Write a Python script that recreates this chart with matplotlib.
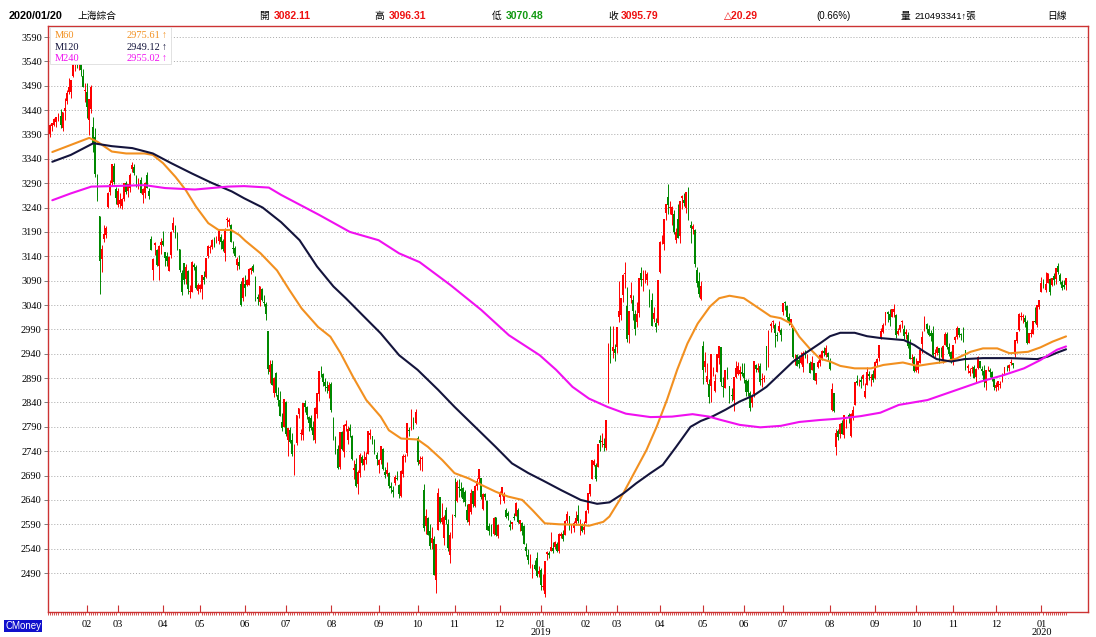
import matplotlib
matplotlib.use('Agg')
import matplotlib.pyplot as plt
import numpy as np
from matplotlib.patches import Rectangle

# daily candles, (open, high, low, close), one list per month
jan18 = [(3386,3402,3380,3392),(3391,3412,3385,3409),(3407,3414,3398,3414),(3410,3424,3407,3422),(3415,3426,3405,3425),(3423,3435,3418,3429),(3428,3442,3403,3410),(3403,3437,3398,3437),(3438,3465,3420,3445),(3458,3481,3453,3475),(3478,3505,3474,3488),(3478,3502,3465,3501),(3509,3547,3508,3547),(3548,3565,3521,3559),(3563,3563,3527,3548),(3536,3559,3522,3558),(3564,3587,3511,3523),(3511,3524,3488,3488),(3480,3495,3457,3481)]
feb18 = [(3478,3495,3424,3447),(3419,3463,3388,3462),(3443,3491,3434,3487),(3406,3426,3355,3371),(3384,3404,3303,3309),(3294,3309,3253,3262),(3222,3222,3062,3130),(3135,3164,3107,3154),(3176,3205,3170,3185),(3184,3202,3177,3199),(3242,3272,3239,3269),(3272,3296,3266,3289),(3290,3330,3284,3330),(3325,3331,3289,3292),(3279,3283,3248,3259)]
mar18 = [(3246,3281,3242,3274),(3248,3269,3239,3255),(3244,3260,3238,3257),(3258,3290,3254,3290),(3290,3295,3267,3272),(3274,3289,3261,3288),(3280,3310,3272,3307),(3319,3334,3312,3327),(3323,3329,3307,3310),(3303,3307,3282,3291),(3286,3301,3278,3291),(3297,3302,3269,3270),(3266,3280,3250,3279),(3269,3292,3260,3291),(3306,3312,3280,3281),(3275,3281,3258,3263),(3175,3182,3152,3153),(3111,3137,3092,3134),(3164,3170,3143,3167),(3152,3155,3121,3122),(3120,3163,3091,3161),(3163,3178,3145,3169)]
apr18 = [(3171,3191,3161,3163),(3148,3149,3121,3137),(3140,3148,3120,3131),(3110,3140,3109,3138),(3142,3191,3137,3190),(3194,3220,3190,3208),(3202,3205,3177,3180),(3185,3190,3153,3159),(3154,3155,3107,3111),(3105,3112,3061,3067),(3126,3127,3083,3091),(3094,3125,3084,3117),(3110,3112,3063,3072),(3067,3081,3054,3068),(3066,3130,3066,3129),(3122,3127,3111,3118),(3119,3123,3072,3075),(3068,3085,3062,3082)]
may18 = [(3072,3084,3066,3081),(3072,3101,3052,3101),(3097,3110,3084,3091),(3097,3137,3095,3137),(3141,3163,3136,3162),(3156,3163,3146,3159),(3160,3176,3155,3174),(3174,3180,3160,3163),(3170,3181,3167,3174),(3172,3193,3166,3192),(3180,3186,3155,3170),(3171,3175,3151,3154),(3147,3198,3130,3193),(3214,3220,3201,3214),(3211,3219,3203,3214),(3205,3206,3169,3169),(3158,3171,3147,3155),(3158,3161,3138,3141),(3123,3138,3112,3135),(3129,3143,3113,3120),(3083,3089,3037,3041),(3054,3098,3048,3095)]
jun18 = [(3084,3102,3059,3075),(3082,3093,3078,3091),(3082,3115,3082,3114),(3111,3117,3103,3115),(3120,3125,3108,3110),(3097,3099,3049,3067),(3057,3062,3041,3053),(3046,3080,3039,3080),(3072,3074,3049,3050),(3046,3060,3038,3044),(3042,3046,3009,3022),(2987,2987,2899,2908),(2903,2928,2879,2916),(2919,2927,2875,2876),(2860,2893,2851,2890),(2901,2902,2854,2859),(2856,2872,2833,2845),(2845,2864,2812,2813),(2800,2819,2782,2787),(2790,2848,2789,2847)]
jul18 = [(2841,2842,2772,2776),(2764,2787,2730,2787),(2784,2790,2756,2759),(2763,2777,2730,2734),(2731,2754,2691,2747),(2757,2815,2752,2815),(2817,2829,2808,2828),(2775,2786,2762,2778),(2774,2838,2762,2838),(2839,2845,2821,2831),(2831,2832,2807,2814),(2810,2812,2782,2798),(2809,2814,2783,2787),(2790,2802,2764,2773),(2762,2831,2756,2829),(2816,2860,2808,2860),(2857,2905,2844,2904),(2905,2915,2893,2904),(2898,2900,2874,2882),(2882,2890,2864,2874),(2872,2884,2859,2869),(2863,2882,2850,2876)]
aug18 = [(2877,2881,2820,2825),(2807,2810,2764,2768),(2768,2772,2734,2740),(2745,2753,2703,2705),(2708,2780,2703,2779),(2780,2782,2742,2744),(2739,2795,2728,2794),(2791,2804,2781,2795),(2762,2791,2754,2786),(2788,2796,2770,2781),(2771,2774,2722,2723),(2701,2721,2682,2706),(2713,2726,2666,2669),(2673,2702,2653,2698),(2696,2737,2687,2733),(2729,2732,2711,2715),(2712,2741,2702,2725),(2722,2738,2714,2729),(2734,2781,2734,2781),(2774,2785,2766,2778),(2771,2772,2754,2769),(2763,2765,2735,2738),(2732,2738,2711,2725)]
sep18 = [(2712,2725,2696,2721),(2721,2751,2714,2751),(2744,2746,2701,2704),(2698,2707,2684,2692),(2694,2718,2689,2702),(2696,2697,2664,2669),(2668,2677,2655,2665),(2661,2669,2645,2656),(2675,2692,2670,2687),(2686,2699,2680,2682),(2670,2672,2644,2652),(2648,2701,2645,2700),(2693,2735,2687,2731),(2728,2735,2718,2729),(2736,2798,2731,2797),(2783,2790,2771,2781),(2786,2827,2784,2807),(2799,2810,2785,2792),(2797,2827,2796,2821)]
oct18 = [(2768,2772,2712,2717),(2713,2731,2702,2721),(2723,2730,2699,2726),(2661,2673,2577,2583),(2587,2622,2571,2607),(2602,2605,2567,2568),(2577,2590,2540,2546),(2551,2584,2539,2562),(2560,2566,2486,2486),(2475,2550,2449,2550),(2579,2664,2578,2655),(2646,2646,2592,2595),(2595,2633,2590,2603),(2561,2610,2547,2604),(2620,2626,2591,2599),(2590,2601,2535,2542),(2527,2574,2511,2568),(2574,2612,2562,2603)]
nov18 = [(2610,2685,2604,2606),(2637,2680,2636,2676),(2666,2683,2647,2665),(2662,2677,2646,2659),(2665,2667,2636,2641),(2657,2660,2628,2636),(2620,2631,2595,2599),(2594,2632,2588,2631),(2615,2663,2611,2655),(2658,2659,2625,2632),(2628,2670,2626,2668),(2668,2686,2661,2679),(2683,2704,2673,2704),(2685,2685,2641,2646),(2621,2655,2619,2652),(2652,2655,2639,2645),(2637,2639,2579,2579),(2586,2592,2568,2576),(2584,2590,2566,2575),(2570,2604,2569,2602),(2604,2605,2566,2567),(2565,2590,2561,2588)]
dec18 = [(2646,2659,2631,2655),(2652,2666,2648,2666),(2637,2656,2633,2650),(2620,2623,2602,2605),(2614,2617,2599,2606),(2589,2598,2578,2585),(2590,2595,2580,2594),(2605,2613,2598,2602),(2606,2635,2606,2634),(2619,2623,2592,2594),(2590,2599,2577,2598),(2592,2594,2567,2577),(2586,2589,2549,2550),(2544,2552,2524,2536),(2526,2540,2508,2516),(2510,2529,2501,2527),(2494,2508,2480,2505),(2507,2516,2496,2498),(2520,2534,2482,2483),(2488,2505,2482,2494)]
jan19 = [(2497,2500,2456,2465),(2461,2488,2456,2464),(2446,2515,2440,2515),(2529,2536,2516,2533),(2531,2535,2521,2526),(2535,2575,2535,2544),(2541,2554,2531,2535),(2543,2556,2539,2554),(2549,2553,2533,2536),(2536,2573,2532,2570),(2565,2575,2562,2570),(2571,2579,2556,2560),(2569,2599,2569,2596),(2597,2618,2593,2611),(2607,2608,2578,2580),(2575,2590,2572,2581),(2583,2597,2574,2592),(2593,2618,2589,2602),(2609,2630,2593,2597),(2594,2600,2568,2594),(2590,2593,2575,2576),(2578,2596,2571,2585)]
feb19 = [(2592,2619,2592,2618),(2619,2654,2613,2654),(2652,2672,2649,2672),(2683,2722,2682,2721),(2711,2725,2709,2720),(2711,2716,2679,2682),(2708,2754,2708,2754),(2762,2774,2740,2756),(2758,2778,2748,2761),(2754,2768,2740,2752),(2747,2804,2742,2804),(2838,2962,2838,2961),(2965,2997,2921,2942),(2945,2996,2931,2954),(2949,2960,2926,2941)]
mar19 = [(2954,2995,2942,2994),(3016,3090,3005,3028),(3020,3054,3010,3054),(3060,3103,3046,3102),(3103,3129,3075,3106),(3039,3076,2965,2970),(2979,3027,2962,3027),(3054,3087,3044,3060),(3050,3061,3009,3027),(3022,3030,2979,2991),(3006,3046,2995,3022),(3024,3096,3015,3096),(3105,3117,3078,3091),(3091,3112,3068,3091),(3101,3112,3086,3101),(3092,3108,3082,3104),(3063,3073,3035,3043),(3050,3065,2997,2997),(3012,3035,3005,3023),(3004,3014,2985,2995),(3003,3092,3000,3091)]
apr19 = [(3108,3172,3105,3170),(3177,3183,3166,3177),(3166,3216,3152,3216),(3229,3247,3214,3247),(3261,3288,3227,3245),(3239,3253,3227,3240),(3224,3243,3205,3242),(3227,3234,3186,3190),(3173,3198,3168,3189),(3216,3247,3177,3178),(3182,3254,3167,3254),(3259,3265,3238,3263),(3256,3270,3244,3250),(3239,3271,3229,3271),(3266,3283,3215,3215),(3205,3213,3168,3199),(3197,3207,3185,3202),(3193,3196,3117,3124),(3112,3118,3076,3086),(3089,3107,3057,3063),(3053,3089,3050,3078)]
may19 = [(2955,2966,2877,2906),(2913,2943,2903,2926),(2882,2920,2878,2894),(2878,2888,2838,2851),(2874,2939,2840,2939),(2904,2913,2894,2904),(2863,2898,2862,2884),(2903,2939,2903,2939),(2932,2956,2918,2956),(2954,2954,2873,2882),(2874,2892,2852,2871),(2869,2906,2869,2906),(2903,2912,2889,2892),(2873,2874,2838,2853),(2856,2870,2844,2853),(2845,2893,2822,2892),(2892,2926,2891,2910),(2899,2923,2896,2915),(2899,2914,2886,2906),(2903,2920,2895,2899)]
jun19 = [(2901,2921,2879,2890),(2887,2888,2853,2861),(2884,2888,2853,2862),(2860,2863,2823,2828),(2838,2857,2830,2852),(2857,2926,2852,2926),(2916,2919,2902,2909),(2907,2920,2902,2911),(2914,2920,2876,2882),(2886,2900,2871,2888),(2888,2897,2882,2890),(2955,2956,2906,2918),(2922,2988,2913,2987),(2997,3005,2984,3002),(3005,3009,2992,3008),(3000,3004,2953,2982),(2979,2985,2967,2976),(2986,3008,2985,2997),(2988,2993,2967,2979)]
jul19 = [(3025,3045,3020,3045),(3045,3048,3030,3044),(3037,3041,3009,3015),(3016,3023,3000,3005),(3000,3012,2995,3011),(2993,2996,2932,2933),(2927,2940,2916,2928),(2938,2940,2915,2915),(2928,2937,2911,2918),(2921,2943,2918,2931),(2912,2946,2903,2942),(2940,2947,2932,2938),(2931,2940,2922,2932),(2920,2925,2900,2901),(2907,2936,2906,2924),(2920,2922,2886,2887),(2885,2900,2877,2900),(2913,2928,2910,2923),(2922,2939,2915,2937),(2929,2947,2927,2945),(2945,2953,2935,2941),(2937,2957,2934,2952),(2942,2944,2928,2933)]
aug19 = [(2926,2931,2906,2909),(2825,2879,2823,2868),(2859,2859,2821,2822),(2748,2786,2733,2778),(2781,2785,2762,2769),(2776,2797,2768,2795),(2798,2804,2775,2775),(2774,2815,2768,2815),(2797,2806,2788,2797),(2815,2819,2797,2809),(2771,2818,2769,2816),(2810,2832,2803,2824),(2834,2883,2834,2883),(2884,2897,2875,2880),(2879,2888,2873,2880),(2886,2894,2870,2883),(2888,2899,2876,2897),(2851,2879,2850,2864),(2876,2912,2876,2902),(2899,2905,2886,2894),(2890,2898,2874,2891),(2898,2907,2882,2886)]
sep19 = [(2891,2925,2888,2924),(2922,2931,2914,2930),(2931,2957,2926,2957),(2974,2993,2970,2986),(2985,3003,2982,3000),(3007,3025,3000,3025),(3026,3028,3005,3021),(3022,3031,2996,3009),(3016,3032,3015,3031),(3025,3042,3015,3031),(3019,3021,2973,2978),(2981,2993,2978,2986),(2988,3002,2985,2999),(3005,3010,2993,3006),(2990,2999,2970,2977),(2980,2990,2971,2985),(2979,2984,2951,2955),(2961,2970,2929,2929),(2930,2940,2922,2932),(2934,2936,2903,2905)]
oct19 = [(2905,2932,2903,2914),(2906,2925,2900,2925),(2920,2950,2920,2948),(2960,2986,2942,2974),(2992,3018,2987,3008),(3001,3004,2982,2991),(2991,2998,2976,2979),(2983,2988,2966,2977),(2983,2996,2936,2938),(2940,2949,2933,2940),(2941,2955,2937,2954),(2952,2952,2921,2941),(2942,2953,2933,2941),(2930,2957,2920,2955),(2958,2984,2957,2980),(2980,2984,2950,2954),(2953,2962,2935,2939),(2943,2945,2920,2929)]
nov19 = [(2923,2958,2916,2958),(2969,2977,2962,2975),(2975,2996,2970,2992),(2992,2992,2974,2979),(2981,2983,2969,2979),(2993,2995,2964,2964),(2947,2947,2907,2910),(2911,2918,2901,2915),(2901,2910,2894,2905),(2909,2914,2901,2910),(2912,2917,2891,2891),(2892,2911,2882,2909),(2910,2935,2908,2934),(2925,2926,2911,2911),(2909,2914,2896,2904),(2905,2917,2872,2885),(2879,2906,2866,2906),(2910,2915,2904,2910),(2907,2910,2892,2903),(2903,2904,2884,2890),(2889,2889,2865,2872)]
dec19 = [(2870,2881,2863,2876),(2872,2885,2865,2885),(2876,2884,2870,2878),(2885,2900,2882,2899),(2901,2913,2896,2912),(2915,2917,2904,2914),(2911,2919,2905,2917),(2920,2930,2916,2924),(2922,2922,2910,2916),(2939,2968,2934,2968),(2966,2985,2962,2984),(2988,3023,2987,3022),(3015,3025,3009,3017),(3016,3022,3004,3017),(3014,3019,2995,3005),(3005,3009,2961,2963),(2963,2983,2962,2983),(2981,2990,2974,2982),(2981,3008,2980,3007),(3007,3036,3003,3005),(2998,3041,2994,3040),(3036,3051,3031,3050)]
jan20 = [(3066,3098,3066,3085),(3089,3094,3074,3084),(3071,3108,3066,3083),(3086,3105,3085,3105),(3094,3095,3060,3067),(3082,3096,3080,3095),(3100,3105,3081,3092),(3094,3116,3084,3116),(3120,3127,3104,3107),(3102,3105,3083,3090),(3088,3092,3070,3074),(3081,3092,3072,3076),(3082,3096,3070,3096)]

months = [jan18, feb18, mar18, apr18, may18, jun18, jul18, aug18, sep18, oct18, nov18, dec18,
          jan19, feb19, mar19, apr19, may19, jun19, jul19, aug19, sep19, oct19, nov19, dec19, jan20]
month_labels = ['02', '03', '04', '05', '06', '07', '08', '09', '10', '11', '12', '01\n2019',
                '02', '03', '04', '05', '06', '07', '08', '09', '10', '11', '12', '01\n2020']

# moving averages: (day index, value)
m60_x = [2, 20, 24, 31, 38, 47, 51, 56, 62, 67, 72, 78, 83, 89, 93, 96, 103.5, 111.5, 117.5, 123.5,
         131.5, 137.5, 142.5, 148.5, 155, 162, 166, 172, 180, 185, 192, 198, 205, 211, 218, 224, 231,
         236, 242, 249, 258.5, 263.5, 270.5, 273.5, 278.5, 285.5, 291.5, 296.5, 301.5, 306.5, 311.5,
         316.5, 322.5, 327, 332, 339, 345, 352, 357, 362, 366, 371, 376, 381, 386, 393, 401, 407, 416.5,
         423.5, 429.5, 436.5, 442.5, 449.5, 455.5, 462.5, 468.5, 477.5, 483.5, 489.5, 496]
m60_y = [3354, 3383, 3375, 3355, 3351, 3351, 3348, 3331, 3303, 3276, 3242, 3208, 3194, 3194, 3184, 3172,
         3146, 3111, 3071, 3033, 2995, 2975, 2941, 2893, 2845, 2811, 2783, 2766, 2764, 2749, 2722, 2695,
         2684, 2671, 2657, 2647, 2640, 2619, 2592, 2590, 2589, 2587, 2595, 2606, 2640, 2695, 2742, 2790,
         2845, 2907, 2961, 3002, 3037, 3054, 3059, 3054, 3037, 3017, 3013, 3002, 2975, 2951, 2930, 2924,
         2915, 2910, 2910, 2917, 2922, 2915, 2919, 2923, 2930, 2944, 2951, 2951, 2941, 2944, 2953, 2965,
         2975.6]
m120_x = [2, 11, 22, 31, 41, 51, 60, 70, 79.5, 89.5, 95.5, 104.5, 113.5, 122.5, 131, 139, 145, 153, 162,
          171, 180, 190, 198, 208, 218, 226, 234, 241, 250, 259.5, 267.5, 273.5, 280.5, 286.5, 293.5,
          299.5, 306, 313, 318, 324, 330, 337, 344, 350, 357, 363, 370, 376, 381, 386, 393, 399, 406, 417,
          422, 427, 433, 440, 446.5, 455.5, 468.5, 482, 487, 491.5, 496]
m120_y = [3334, 3348, 3372, 3366, 3362, 3351, 3331, 3310, 3291, 3273, 3259, 3240, 3210, 3173, 3119, 3078,
          3054, 3020, 2982, 2937, 2907, 2866, 2831, 2790, 2749, 2715, 2695, 2680, 2660, 2640, 2632, 2635,
          2654, 2674, 2695, 2712, 2749, 2790, 2802, 2812, 2825, 2842, 2855, 2872, 2900, 2924, 2944, 2961,
          2976, 2983, 2983, 2976, 2972, 2968, 2958, 2944, 2929, 2924, 2929, 2931, 2931, 2929, 2934, 2942,
          2949.1]
m240_x = [2, 11, 21, 31, 47, 57, 71.5, 87.5, 95.5, 107.5, 113.5, 132, 147, 161, 171, 181, 196, 211,
          224.5, 239.5, 247.5, 255.5, 263.5, 272.5, 281.5, 293.5, 304, 314, 322, 327, 337, 347, 357, 366,
          376, 386, 396, 405.5, 414.5, 428.5, 441.5, 454.5, 465.5, 475.5, 483.5, 491.5, 496]
m240_y = [3255, 3269, 3283, 3284, 3286, 3280, 3277, 3283, 3284, 3281, 3266, 3225, 3190, 3173, 3146, 3128,
          3081, 3030, 2978, 2937, 2907, 2872, 2848, 2831, 2817, 2810, 2811, 2816, 2811, 2805, 2794, 2789,
          2792, 2800, 2804, 2807, 2812, 2819, 2835, 2845, 2864, 2883, 2896, 2910, 2927, 2948, 2955]

ma_names = ['M60', 'M120', 'M240']
ma_last = ['2975.61', '2949.12', '2955.02']

W, H = 1096, 637
RED = '#ee1111'
GREEN = '#008800'
FRAME = '#cc3333'
MA_COLORS = ['#f29020', '#14143c', '#f010f0']
CJK = ['Noto Sans CJK TC', 'DejaVu Sans']
SERIF = ['Liberation Serif', 'DejaVu Sans']


def fx(x):
    return x / W


def fy(y):
    return 1 - y / H


ohlc = np.array([row for m in months for row in m], dtype=float)
o, h, l, c = ohlc.T
idx = np.arange(len(ohlc))
month_starts = np.cumsum([len(m) for m in months])[:-1]

fig = plt.figure(figsize=(W / 100, H / 100), dpi=100)
ax = fig.add_axes([fx(48), fy(612), (1088 - 48) / W, (612 - 26) / H])

colors = np.where(c >= o, '#ff0000', GREEN)
ax.vlines(idx, l, h, colors=colors, lw=0.7, zorder=2)
ax.bar(idx, np.maximum(np.abs(c - o), 1.5), bottom=np.minimum(o, c), width=0.9,
       color=colors, linewidth=0, zorder=2)

for xs, ys, col in zip([m60_x, m120_x, m240_x], [m60_y, m120_y, m240_y], MA_COLORS):
    ax.plot(xs, ys, color=col, lw=1.5, zorder=3, solid_capstyle='round', solid_joinstyle='round')

ax.set_xlim(-0.1, 506.7)
ax.set_ylim(2410, 3612.6)
ax.set_yticks(range(2490, 3591, 50))
ax.set_yticklabels([str(v) for v in range(2490, 3591, 50)], fontfamily=SERIF, fontsize=7.5)
ax.grid(axis='y', color='#a8a8a8', linestyle=(0, (1, 2)), lw=0.7)
ax.set_axisbelow(True)

ax.set_xticks(month_starts)
ax.set_xticklabels(month_labels, fontfamily=SERIF, fontsize=7.5)
for t in ax.get_xticklabels():
    t.set_linespacing(0.85)
ax.set_xticks(idx, minor=True)
ax.tick_params(axis='x', which='major', direction='in', length=5, color=FRAME, width=0.8, pad=6)
ax.tick_params(axis='x', which='minor', direction='out', length=2.5, color=FRAME, width=0.6)
ax.tick_params(axis='y', direction='out', length=3, color='#666666', width=0.6, pad=1.5)
for s in ax.spines.values():
    s.set_color(FRAME)
    s.set_linewidth(1.0)

# legend box in the upper left corner
fig.add_artist(Rectangle((fx(50), fy(64)), (171 - 50) / W, (64 - 27) / H, transform=fig.transFigure,
                         facecolor='white', edgecolor='#dddddd', lw=0.6, zorder=2))
for k, (name, val, col) in enumerate(zip(ma_names, ma_last, MA_COLORS)):
    yy = fy(36 + 11.3 * k)
    fig.text(fx(55), yy, name, color=col, fontsize=7.5, family=SERIF, va='center', zorder=4)
    fig.text(fx(160), yy, val, color=col, fontsize=7.5, family=SERIF, va='center', ha='right', zorder=4)
    fig.text(fx(162), yy, '\u2191', color=col, fontsize=7, family=SERIF, va='center', zorder=4)

# header line
hy = fy(16)
fig.text(fx(9), hy, '2020/01/20', fontsize=7.8, weight='bold', family='Liberation Sans', va='center')
fig.text(fx(78), hy, '上海綜合', fontsize=7, family=CJK, va='center')
heads = [(259, '開', 274, '3082.11', RED), (374, '高', 389, '3096.31', RED),
         (492, '低', 506, '3070.48', '#119911'), (608, '收', 621, '3095.79', RED)]
for x1, lab, x2, val, col in heads:
    fig.text(fx(x1), hy, lab, fontsize=7, family=CJK, va='center')
    fig.text(fx(x2), hy, val, fontsize=7.5, weight='bold', family='Liberation Sans', color=col, va='center')
fig.text(fx(724), hy, '\u25b320.29', fontsize=7.5, weight='bold', family=['Liberation Sans', 'DejaVu Sans'],
         color=RED, va='center')
fig.text(fx(816), hy, '(0.66%)', fontsize=7, family='Liberation Sans', va='center')
fig.text(fx(901), hy, '量', fontsize=7, family=CJK, va='center')
fig.text(fx(914), hy, '210493341\u2191張', fontsize=6.8, family=['Liberation Sans', 'Noto Sans CJK TC'],
         va='center')
fig.text(fx(1047), hy, '日線', fontsize=7, family=CJK, va='center')

fig.text(fx(5), fy(626), 'CMoney', fontsize=7, family='Liberation Sans', color='white', va='center',
         bbox=dict(boxstyle='square,pad=0.15', facecolor='#1010cc', edgecolor='none'))

fig.savefig('out.png', dpi=100)
